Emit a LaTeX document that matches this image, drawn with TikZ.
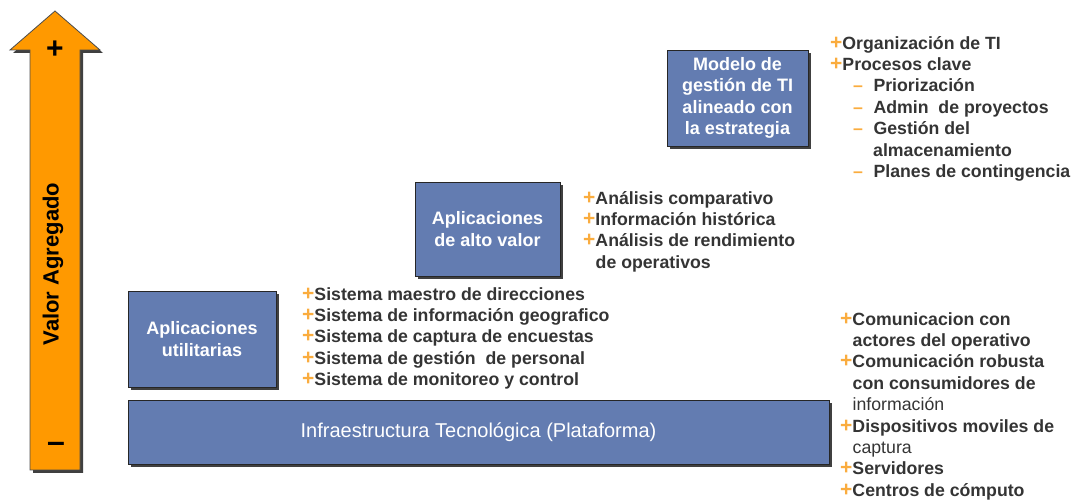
\documentclass[tikz,border=0pt]{standalone}
\usepackage{fontspec}
\setmainfont{Liberation Sans}
\usepackage{tikz}
\usetikzlibrary{positioning,shadows}

\definecolor{boxblue}{RGB}{99,124,177}
\definecolor{arroworange}{RGB}{255,153,0}
\definecolor{bullet}{RGB}{250,172,62}
\definecolor{listgray}{RGB}{52,52,52}

\newcommand{\pl}{{\color{bullet}\fontsize{21}{21}\selectfont+}}
\newcommand{\ds}{\hspace*{23pt}{\color{bullet}--}\hspace*{10.5pt}}
\newcommand{\hang}{\hspace*{12.5pt}}

\begin{document}
\begin{tikzpicture}[x=1pt,y=1pt,
  level/.style={draw=black!85, line width=0.8pt, fill=boxblue, text=white,
    font=\bfseries\fontsize{18}{21.5}\selectfont, align=center, inner sep=0pt,
    drop shadow={shadow xshift=3pt, shadow yshift=-3pt, fill=black!75, opacity=1}},
  items/.style={anchor=north west, align=left, inner sep=0pt, text=listgray,
    font=\bfseries\fontsize{17.7}{21.4}\selectfont}]
\useasboundingbox (0,0) rectangle (1084,502);

\draw[fill=arroworange, draw=black!70, line width=0.8pt,
  drop shadow={shadow xshift=3pt, shadow yshift=-3pt, fill=black!75, opacity=1}]
  (30,32) -- (30,452) -- (10,452) -- (55,491) -- (100,452) -- (80,452) -- (80,32) -- cycle;
\node[font=\bfseries\fontsize{30}{30}\selectfont] (more) at (55,452) {+};
\node[font=\bfseries\fontsize{32}{32}\selectfont] (less) at (56,55) {--};
\node[rotate=90, font=\bfseries\fontsize{22}{22}\selectfont] (valor) at (53,238) {Valor Agregado};

\node[level, minimum width=701pt, minimum height=64pt,
  font=\fontsize{20}{21}\selectfont] (infra) at (478.5,70) {Infraestructura Tecnológica (Plataforma)};
\node[level, minimum width=148pt, minimum height=96pt] (util) at (202,163) {Aplicaciones\\utilitarias};
\node[level, minimum width=145pt, minimum height=94pt] (alto) at (487.5,273) {Aplicaciones\\de alto valor};
\node[level, minimum width=141pt, minimum height=96pt] (modelo) at (737.5,404) {Modelo de\\gestión de TI\\alineado con\\la estrategia};

\node[items] (utilList) at (302,215) {\pl Sistema maestro de direcciones\\
  \pl Sistema de información geografico\\
  \pl Sistema de captura de encuestas\\
  \pl Sistema de gestión~~de personal\\
  \pl Sistema de monitoreo y control};
\node[items] (altoList) at (583,311) {\pl Análisis comparativo\\
  \pl Información histórica\\
  \pl Análisis de rendimiento\\
  \hang de operativos};
\node[items] (modeloList) at (830,466) {\pl Organización de TI\\
  \pl Procesos clave\\
  \ds Priorización\\
  \ds Admin~~de proyectos\\
  \ds Gestión del\\
  \hspace*{43pt}almacenamiento\\
  \ds Planes de contingencia};
\node[items] (infraList) at (840,190) {\pl Comunicacion con\\
  \hang actores del operativo\\
  \pl Comunicación robusta\\
  \hang con consumidores de\\
  \hang {\mdseries información}\\
  \pl Dispositivos moviles de\\
  \hang {\mdseries captura}\\
  \pl Servidores\\
  \pl Centros de cómputo};
\end{tikzpicture}
\end{document}
